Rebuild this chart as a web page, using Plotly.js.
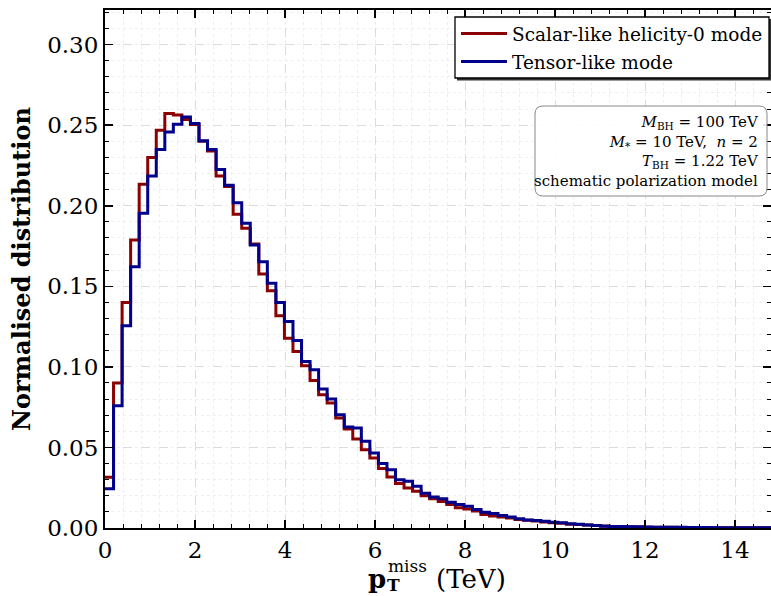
<!DOCTYPE html>
<html>
<head>
<meta charset="utf-8">
<script src="https://cdn.plot.ly/plotly-3.0.1.min.js"></script>
<style>html,body{margin:0;padding:0;background:#fff}#chart{width:771px;height:596px}</style>
</head>
<body>
<div id="chart"></div>
<script>
// Histogram: 79 equal bins between 0 and 15 TeV
const binLow = 0;
const binHigh = 15;
const nBins = 79;

const scalarLike = [
  0.0315, 0.0900, 0.1399, 0.1787, 0.2134, 0.2300, 0.2469, 0.2572, 0.2564, 0.2535,
  0.2505, 0.2400, 0.2340, 0.2184, 0.2120, 0.1947, 0.1860, 0.1763, 0.1577, 0.1473,
  0.1317, 0.1178, 0.1096, 0.1007, 0.0916, 0.0827, 0.0776, 0.0683, 0.0615, 0.0553,
  0.0486, 0.0435, 0.0369, 0.0317, 0.0276, 0.0249, 0.0228, 0.0200, 0.0181, 0.0165,
  0.0146, 0.0125, 0.0118, 0.0105, 0.0084, 0.0075, 0.0068, 0.0062, 0.0052, 0.0048,
  0.0044, 0.0038, 0.0032, 0.0029, 0.0024, 0.0021, 0.0018, 0.0015, 0.0012, 0.0010,
  0.0009, 0.0008, 0.0006, 0.0005, 0.0005, 0.0004, 0.0004, 0.0003, 0.0003, 0.0003,
  0.0002, 0.0002, 0.0002, 0.0002, 0.0001, 0.0001, 0.0001, 0.0001, 0.0001
];
const tensorLike = [
  0.0243, 0.0759, 0.1255, 0.1622, 0.1953, 0.2184, 0.2349, 0.2458, 0.2506, 0.2551,
  0.2510, 0.2403, 0.2349, 0.2225, 0.2128, 0.2019, 0.1891, 0.1757, 0.1653, 0.1519,
  0.1399, 0.1281, 0.1164, 0.1034, 0.0982, 0.0862, 0.0800, 0.0703, 0.0627, 0.0621,
  0.0538, 0.0466, 0.0400, 0.0362, 0.0300, 0.0290, 0.0259, 0.0215, 0.0193, 0.0181,
  0.0160, 0.0146, 0.0135, 0.0115, 0.0098, 0.0090, 0.0078, 0.0069, 0.0057, 0.0050,
  0.0047, 0.0042, 0.0036, 0.0032, 0.0026, 0.0023, 0.0018, 0.0016, 0.0011, 0.0010,
  0.0009, 0.0008, 0.0007, 0.0006, 0.0005, 0.0005, 0.0004, 0.0004, 0.0003, 0.0003,
  0.0003, 0.0002, 0.0002, 0.0002, 0.0002, 0.0001, 0.0001, 0.0001, 0.0001
];
const seriesNames = ["Scalar-like helicity-0 mode", "Tensor-like mode"];
const yTickVals = [0, 0.05, 0.10, 0.15, 0.20, 0.25, 0.30];
const xTickVals = [0, 2, 4, 6, 8, 10, 12, 14];
const infoLines = [
  "<i>M</i><sub>BH</sub> = 100 TeV",
  "<i>M</i><sub>*</sub> = 10 TeV,  <i>n</i> = 2",
  "<i>T</i><sub>BH</sub> = 1.22 TeV",
  "schematic polarization model"
];

const edges = [];
for (let k = 0; k <= nBins; k++) edges.push(binLow + k * (binHigh - binLow) / nBins);
function stepY(v) { return v.concat([v[v.length - 1]]); }

const FONT = "DejaVu Serif";
const traces = [
  {x: edges, y: stepY(scalarLike), name: seriesNames[0], legendgroup: "a", type: "scatter", mode: "lines",
   line: {shape: "hv", color: "#8b0000", width: 3}},
  {x: edges, y: stepY(tensorLike), name: seriesNames[1], legendgroup: "b", type: "scatter", mode: "lines",
   line: {shape: "hv", color: "#00008b", width: 3}}
];

const W = 771, H = 596, L = 105, R = 0, T = 10, B = 68;
const pw = W - L - R, ph = H - T - B;
function px2x(p) { return (p - L) / pw; }
function py2y(p) { return 1 - (p - T) / ph; }

function roundRect(x0, y0, x1, y1, r) {
  const X = p => px2x(p), Y = p => py2y(p);
  return `M ${X(x0 + r)} ${Y(y0)} L ${X(x1 - r)} ${Y(y0)} Q ${X(x1)} ${Y(y0)} ${X(x1)} ${Y(y0 + r)} ` +
         `L ${X(x1)} ${Y(y1 - r)} Q ${X(x1)} ${Y(y1)} ${X(x1 - r)} ${Y(y1)} ` +
         `L ${X(x0 + r)} ${Y(y1)} Q ${X(x0)} ${Y(y1)} ${X(x0)} ${Y(y1 - r)} ` +
         `L ${X(x0)} ${Y(y0 + r)} Q ${X(x0)} ${Y(y0)} ${X(x0 + r)} ${Y(y0)} Z`;
}

const axisCommon = {
  showline: true, linecolor: "#000", linewidth: 2, mirror: "ticks",
  ticks: "inside", ticklen: 8, tickwidth: 1.5, tickcolor: "#000",
  showgrid: true, gridcolor: "#dcdcdc", griddash: "dash", gridwidth: 1,
  zeroline: false,
  tickfont: {family: FONT, size: 23, color: "#000"}
};

function pxAnn(text, xp, yp, size, xanchor, opts) {
  return Object.assign({xref: "paper", yref: "paper", x: px2x(xp), y: py2y(yp),
    xanchor: xanchor || "left", yanchor: "middle", showarrow: false, text: text,
    font: {family: FONT, size: size, color: "#000"}}, opts || {});
}

const layout = {
  width: W, height: H,
  margin: {l: L, r: R, t: T, b: B},
  paper_bgcolor: "#fff", plot_bgcolor: "#fff",
  showlegend: true,
  xaxis: Object.assign({}, axisCommon, {
    range: [0, 14.8], tickvals: xTickVals, ticktext: xTickVals.map(String),
    minor: {dtick: 0.4, tick0: 0, ticks: "inside", ticklen: 4, tickwidth: 1, tickcolor: "#000",
            showgrid: true, gridcolor: "#eeeeee", griddash: "dot", gridwidth: 1}
  }),
  yaxis: Object.assign({}, axisCommon, {
    range: [0, 0.3215], tickvals: yTickVals, ticktext: yTickVals.map(v => v.toFixed(2)),
    minor: {dtick: 0.01, tick0: 0, ticks: "inside", ticklen: 4, tickwidth: 1, tickcolor: "#000",
            showgrid: true, gridcolor: "#eeeeee", griddash: "dot", gridwidth: 1},
    title: {text: "<b>Normalised distribution</b>",
            font: {family: FONT, size: 24, color: "#000"}, standoff: 10}
  }),
  legend: {
    x: px2x(456), xanchor: "left", y: py2y(15), yanchor: "top",
    bgcolor: "rgba(0,0,0,0)", borderwidth: 0,
    font: {family: FONT, size: 18.5, color: "#000"},
    itemwidth: 46, traceorder: "grouped", tracegroupgap: 1
  },
  shapes: [
    {type: "rect", xref: "paper", yref: "paper",
     x0: px2x(457), x1: px2x(772), y0: py2y(19), y1: py2y(80.5),
     fillcolor: "#333", line: {width: 0}, layer: "above"},
    {type: "rect", xref: "paper", yref: "paper",
     x0: px2x(455), x1: px2x(769), y0: py2y(17), y1: py2y(78),
     fillcolor: "#fff", line: {color: "#000", width: 1.3}, layer: "above"},
    {type: "path", xref: "paper", yref: "paper", path: roundRect(535, 106, 767, 196, 8),
     fillcolor: "rgba(255,255,255,0.9)", line: {color: "#888", width: 1}, layer: "above"}
  ],
  annotations: [
    pxAnn(infoLines.join("<br>"), 761, 151, 15, "right", {align: "right"}),
    pxAnn("<b>p</b>", 366, 579, 26, "left"),
    pxAnn("<b>T</b>", 385, 585, 17, "left"),
    pxAnn("miss", 386, 566, 17, "left"),
    pxAnn("(TeV)", 434, 579, 26, "left")
  ]
};

Plotly.newPlot("chart", traces, layout, {displayModeBar: false, staticPlot: true});
</script>
</body>
</html>
